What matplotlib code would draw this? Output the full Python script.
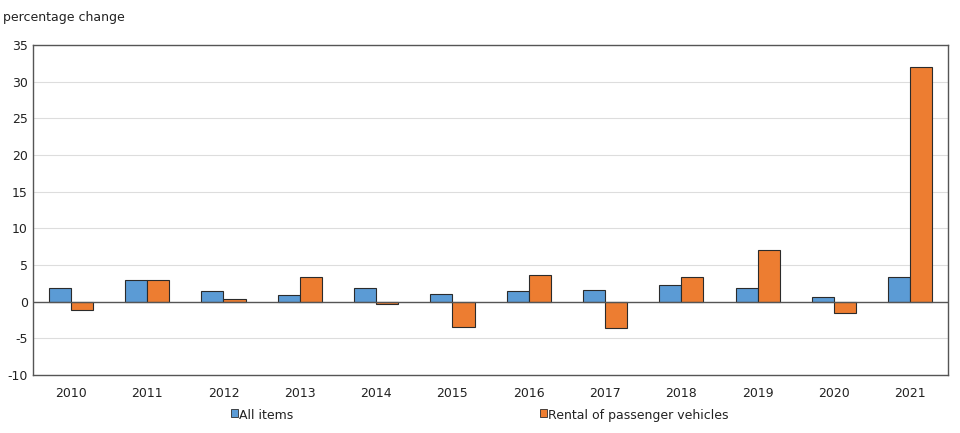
import numpy as np
import matplotlib
matplotlib.use('Agg')
import matplotlib.pyplot as plt

years = ['2010', '2011', '2012', '2013', '2014', '2015',
         '2016', '2017', '2018', '2019', '2020', '2021']
all_items = [1.8, 2.9, 1.5, 0.9, 1.9, 1.1, 1.4, 1.6, 2.3, 1.9, 0.7, 3.4]
rental = [-1.2, 2.9, 0.4, 3.4, -0.3, -3.5, 3.6, -3.6, 3.4, 7.0, -1.6, 32.0]

blue = '#5b9bd5'
orange = '#ed7d31'
edge = '#2b2b2b'

plt.rcParams['font.family'] = 'DejaVu Sans'
plt.rcParams['axes.unicode_minus'] = False
fig = plt.figure(figsize=(9.6, 4.33), dpi=100)
ax = fig.add_axes([0.034, 0.134, 0.954, 0.762])

x = np.arange(len(years))
w = 0.29
ax.bar(x - w/2, all_items, w, color=blue, edgecolor=edge, linewidth=0.8, zorder=3)
ax.bar(x + w/2, rental, w, color=orange, edgecolor=edge, linewidth=0.8, zorder=3)

ax.set_xlim(-0.5, len(years) - 0.5)
ax.set_ylim(-10, 35)
ax.set_yticks(range(-10, 36, 5))
ax.set_xticks(x)
ax.set_xticklabels(years)
ax.tick_params(length=0, labelsize=9, colors='#222222')
ax.tick_params(axis='x', pad=9)
ax.grid(axis='y', color='#dddddd', linewidth=0.8, zorder=0)
ax.axhline(0, color='#555555', linewidth=1.0, zorder=4)
for s in ax.spines.values():
    s.set_color('#555555')
    s.set_linewidth(1.0)

fig.text(0.003, 0.952, 'percentage change', fontsize=9, color='#222222')

fig.text(0.249, 0.033, 'All items', fontsize=9, color='#222222')
fig.text(0.571, 0.033, 'Rental of passenger vehicles', fontsize=9, color='#222222')
for xp, c in [(0.2405, blue), (0.5625, orange)]:
    fig.patches.append(plt.Rectangle((xp, 0.038), 0.0075, 0.017, facecolor=c,
                                     edgecolor=edge, linewidth=0.6,
                                     transform=fig.transFigure, figure=fig))

fig.savefig('out.png', dpi=100)
